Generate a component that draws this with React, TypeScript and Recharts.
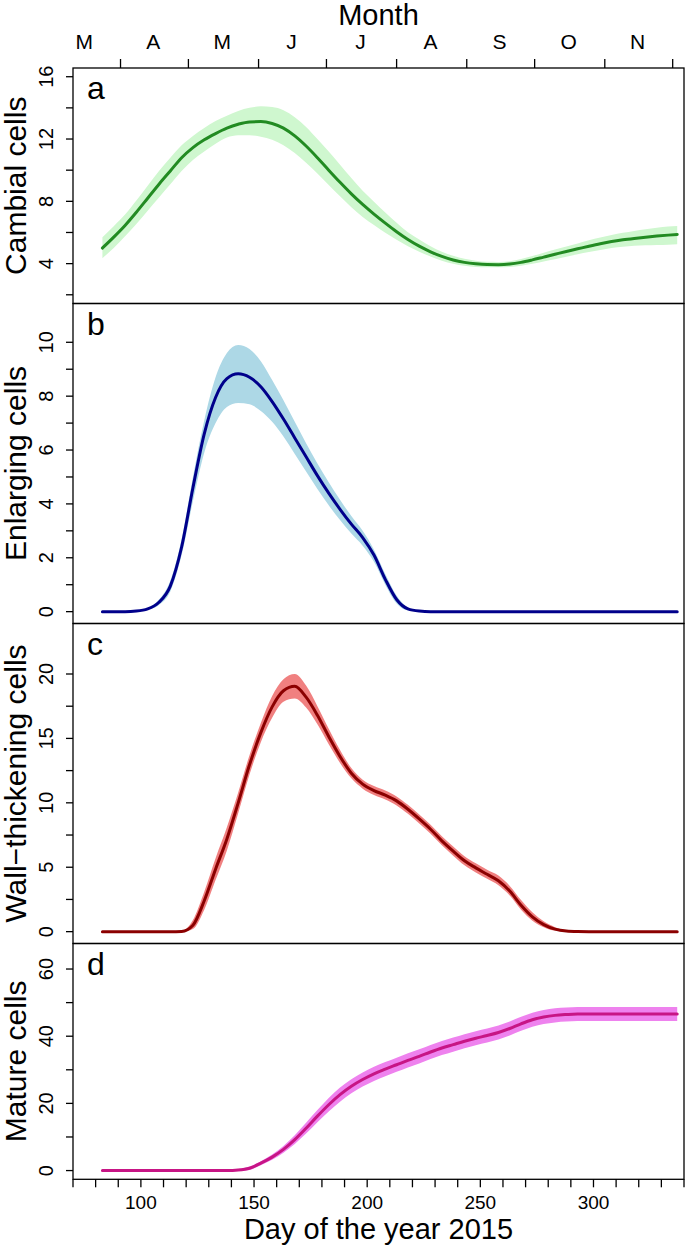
import { Area, ComposedChart, Line, XAxis, YAxis } from 'recharts'

// day of year 2015 at which the fitted curves are sampled
const days = [83, 88, 93, 98, 103, 108, 113, 118, 123, 128, 133, 138, 143, 148, 153, 158, 163, 168, 173, 178, 183, 188, 193, 198, 203, 208, 213, 218, 223, 228, 233, 238, 243, 248, 253, 258, 263, 268, 273, 278, 283, 288, 293, 298, 303, 308, 313, 318, 323, 328, 333, 337]

// a - cambial cells
const cambialFit = [5.0, 5.7, 6.45, 7.3, 8.2, 9.1, 9.95, 10.8, 11.45, 11.95, 12.35, 12.7, 12.95, 13.1, 13.12, 13.0, 12.7, 12.2, 11.55, 10.8, 10.0, 9.22, 8.48, 7.8, 7.18, 6.6, 6.05, 5.55, 5.12, 4.76, 4.46, 4.23, 4.08, 3.99, 3.94, 3.93, 3.97, 4.08, 4.24, 4.42, 4.6, 4.78, 4.95, 5.12, 5.28, 5.42, 5.53, 5.62, 5.7, 5.77, 5.83, 5.87]
const cambialHi = [5.7, 6.4, 7.15, 8.05, 9.0, 9.95, 10.8, 11.6, 12.2, 12.7, 13.15, 13.5, 13.8, 14.0, 14.1, 14.05, 13.85, 13.4, 12.78, 12.0, 11.2, 10.35, 9.5, 8.68, 7.98, 7.28, 6.63, 6.02, 5.55, 5.12, 4.77, 4.5, 4.31, 4.19, 4.12, 4.11, 4.16, 4.3, 4.49, 4.7, 4.9, 5.1, 5.3, 5.5, 5.68, 5.84, 5.98, 6.1, 6.2, 6.3, 6.38, 6.42]
const cambialLo = [4.35, 5.0, 5.75, 6.55, 7.4, 8.25, 9.1, 9.95, 10.65, 11.2, 11.7, 12.1, 12.25, 12.25, 12.15, 11.95, 11.6, 11.1, 10.48, 9.78, 9.05, 8.32, 7.62, 7.0, 6.48, 5.98, 5.53, 5.12, 4.77, 4.46, 4.19, 3.99, 3.86, 3.79, 3.76, 3.76, 3.79, 3.87, 3.99, 4.14, 4.28, 4.44, 4.6, 4.74, 4.88, 5.0, 5.08, 5.14, 5.18, 5.2, 5.22, 5.24]

// b - enlarging cells
const enlargingFit = [0, 0, 0, 0.02, 0.1, 0.35, 0.95, 2.4, 4.6, 6.6, 7.95, 8.65, 8.83, 8.7, 8.35, 7.8, 7.15, 6.45, 5.75, 5.05, 4.4, 3.8, 3.25, 2.75, 2.1, 1.2, 0.45, 0.1, 0.02, 0, 0, 0, 0, 0, 0, 0, 0, 0, 0, 0, 0, 0, 0, 0, 0, 0, 0, 0, 0, 0, 0, 0]
const enlargingHi = [0, 0, 0, 0.03, 0.14, 0.45, 1.15, 2.7, 5.0, 7.1, 8.7, 9.6, 9.9, 9.75, 9.3, 8.6, 7.85, 7.05, 6.25, 5.5, 4.8, 4.15, 3.55, 3.0, 2.3, 1.4, 0.6, 0.15, 0.03, 0, 0, 0, 0, 0, 0, 0, 0, 0, 0, 0, 0, 0, 0, 0, 0, 0, 0, 0, 0, 0, 0, 0]
const enlargingLo = [0, 0, 0, 0.01, 0.07, 0.25, 0.75, 2.1, 4.1, 5.9, 7.0, 7.6, 7.75, 7.7, 7.45, 7.05, 6.5, 5.85, 5.2, 4.55, 3.95, 3.4, 2.9, 2.45, 1.85, 1.0, 0.3, 0.04, 0.01, 0, 0, 0, 0, 0, 0, 0, 0, 0, 0, 0, 0, 0, 0, 0, 0, 0, 0, 0, 0, 0, 0, 0]

// c - wall-thickening cells
const wallFit = [0, 0, 0, 0, 0, 0, 0, 0.02, 0.5, 2.4, 4.85, 7.2, 10.0, 12.95, 15.45, 17.45, 18.7, 19.05, 18.2, 16.8, 15.15, 13.6, 12.3, 11.45, 10.95, 10.6, 10.15, 9.5, 8.75, 7.95, 7.05, 6.25, 5.5, 4.95, 4.45, 3.95, 3.15, 2.05, 1.15, 0.55, 0.2, 0.05, 0.01, 0, 0, 0, 0, 0, 0, 0, 0, 0]
const wallHi = [0, 0, 0, 0, 0, 0, 0, 0.05, 0.9, 3.1, 5.7, 8.1, 10.8, 13.7, 16.2, 18.3, 19.6, 20.0, 19.1, 17.5, 15.75, 14.1, 12.7, 11.8, 11.3, 10.95, 10.5, 9.85, 9.1, 8.3, 7.4, 6.6, 5.85, 5.3, 4.8, 4.35, 3.55, 2.45, 1.5, 0.8, 0.35, 0.1, 0.02, 0, 0, 0, 0, 0, 0, 0, 0, 0]
const wallLo = [0, 0, 0, 0, 0, 0, 0, 0, 0.2, 1.7, 4.0, 6.3, 9.2, 12.2, 14.7, 16.6, 17.85, 18.1, 17.4, 16.1, 14.55, 13.1, 11.9, 11.1, 10.6, 10.25, 9.8, 9.15, 8.4, 7.6, 6.7, 5.9, 5.15, 4.6, 4.1, 3.6, 2.8, 1.7, 0.85, 0.35, 0.08, 0.01, 0, 0, 0, 0, 0, 0, 0, 0, 0, 0]

// d - mature cells
const matureFit = [0, 0, 0, 0, 0, 0, 0, 0, 0, 0, 0, 0, 0.15, 0.7, 2.2, 4.0, 6.3, 9.2, 12.6, 16.2, 19.6, 22.6, 25.1, 27.1, 28.8, 30.2, 31.5, 32.8, 34.0, 35.3, 36.5, 37.5, 38.5, 39.4, 40.2, 41.1, 42.3, 43.7, 44.9, 45.7, 46.2, 46.45, 46.6, 46.6, 46.6, 46.6, 46.6, 46.6, 46.6, 46.6, 46.6, 46.6]
const matureHi = [0.25, 0.25, 0.25, 0.25, 0.25, 0.25, 0.25, 0.25, 0.25, 0.25, 0.25, 0.25, 0.45, 1.2, 2.8, 4.8, 7.3, 10.5, 14.2, 18.0, 21.6, 24.7, 27.2, 29.2, 30.9, 32.3, 33.6, 34.9, 36.1, 37.4, 38.6, 39.6, 40.6, 41.5, 42.3, 43.2, 44.4, 45.8, 47.0, 47.8, 48.3, 48.55, 48.7, 48.7, 48.7, 48.7, 48.7, 48.7, 48.7, 48.7, 48.7, 48.7]
const matureLo = [-0.25, -0.25, -0.25, -0.25, -0.25, -0.25, -0.25, -0.25, -0.25, -0.25, -0.25, -0.25, -0.15, 0.2, 1.6, 3.2, 5.3, 7.9, 11.0, 14.4, 17.6, 20.5, 23.0, 25.0, 26.7, 28.1, 29.4, 30.7, 31.9, 33.2, 34.4, 35.4, 36.4, 37.3, 38.1, 39.0, 40.2, 41.6, 42.8, 43.6, 44.1, 44.35, 44.5, 44.5, 44.5, 44.5, 44.5, 44.5, 44.5, 44.5, 44.5, 44.5]

// axes
const dayTicks = [70, 80, 90, 100, 110, 120, 130, 140, 150, 160, 170, 180, 190, 200, 210, 220, 230, 240, 250, 260, 270, 280, 290, 300, 310, 320, 330, 340]
const dayLabels = [100, 150, 200, 250, 300]
const monthStarts = [91, 121, 152, 182, 213, 244, 274, 305, 335]
const monthMids = [75, 105.5, 136, 166.5, 197, 228, 258.5, 289, 319.5]
const monthLetters = ['M', 'A', 'M', 'J', 'J', 'A', 'S', 'O', 'N']
const topTicks = [...monthMids, ...monthStarts].sort((a, b) => a - b)

const W = 685
const H = 1246
const LEFT = 73
const RIGHT = 684
const AXIS_H = 20
const FONT = '"Liberation Sans", Arial, Helvetica, sans-serif'
const tickStyle = { stroke: '#000', strokeWidth: 1.3 }

const panels = [
  {
    letter: 'a', title: 'Cambial cells', fit: cambialFit, hi: cambialHi, lo: cambialLo,
    line: '#228B22', band: '#CFF7CF', domain: [1.44, 16.56],
    ticks: [2, 4, 6, 8, 10, 12, 14, 16], labels: [4, 8, 12, 16], top: 68, bottom: 303.5,
  },
  {
    letter: 'b', title: 'Enlarging cells', fit: enlargingFit, hi: enlargingHi, lo: enlargingLo,
    line: '#00008B', band: '#ADD8E6', domain: [-0.44, 11.44],
    ticks: [0, 1, 2, 3, 4, 5, 6, 7, 8, 9, 10], labels: [0, 2, 4, 6, 8, 10], top: 303.5, bottom: 623.5,
  },
  {
    letter: 'c', title: 'Wall\u2212thickening cells', fit: wallFit, hi: wallHi, lo: wallLo,
    line: '#8B0000', band: '#F08080', domain: [-0.92, 23.92],
    ticks: [0, 2.5, 5, 7.5, 10, 12.5, 15, 17.5, 20], labels: [0, 5, 10, 15, 20], top: 623.5, bottom: 943.5,
  },
  {
    letter: 'd', title: 'Mature cells', fit: matureFit, hi: matureHi, lo: matureLo,
    line: '#C71585', band: '#EE82EE', domain: [-2.6, 67.6],
    ticks: [0, 10, 20, 30, 40, 50, 60], labels: [0, 20, 40, 60], top: 943.5, bottom: 1179.3,
  },
]

function makeYTick(labels: number[]) {
  return (props: any) => {
    const { y, payload } = props
    if (!labels.includes(payload.value)) return <g />
    return (
      <text x={53} y={y} transform={`rotate(-90 53 ${y})`} textAnchor='middle' fontSize={20} fontFamily={FONT} fill='#000'>
        {payload.value}
      </text>
    )
  }
}

// top axis: month boundaries get a tick mark, mid-months get the letter
const renderTopTick = (props: any) => {
  const { x, payload } = props
  const i = monthMids.indexOf(payload.value)
  if (i >= 0) {
    return (
      <text x={x} y={49} textAnchor='middle' fontSize={21} fontFamily={FONT} fill='#000'>
        {monthLetters[i]}
      </text>
    )
  }
  return <line x1={x} x2={x} y1={68} y2={59} stroke='#000' strokeWidth={1.3} />
}

const renderDayTick = (props: any) => {
  const { x, payload } = props
  if (!dayLabels.includes(payload.value)) return <g />
  return (
    <text x={x} y={1208.5} textAnchor='middle' fontSize={19} fontFamily={FONT} fill='#000'>
      {payload.value}
    </text>
  )
}

function Panel({ p, idx }: { p: (typeof panels)[number]; idx: number }) {
  const rows = days.map((d, i) => ({ day: d, fit: p.fit[i], band: [p.lo[i], p.hi[i]] }))
  const first = idx === 0
  const last = idx === panels.length - 1
  const margin = {
    top: first ? p.top - AXIS_H : p.top,
    right: W - RIGHT,
    bottom: last ? H - p.bottom - AXIS_H : H - p.bottom,
    left: 0,
  }
  return (
    <div style={{ position: 'absolute', left: 0, top: 0 }}>
      <ComposedChart width={W} height={H} data={rows} margin={margin}>
        {first ? (
          <XAxis
            type='number'
            dataKey='day'
            domain={[70, 340]}
            orientation='top'
            height={AXIS_H}
            ticks={topTicks}
            interval={0}
            tick={renderTopTick}
            tickLine={false}
            axisLine={false}
          />
        ) : last ? (
          <XAxis
            type='number'
            dataKey='day'
            domain={[70, 340]}
            orientation='bottom'
            height={AXIS_H}
            ticks={dayTicks}
            interval={0}
            tickSize={8}
            tick={renderDayTick}
            tickLine={tickStyle}
            axisLine={false}
          />
        ) : (
          <XAxis type='number' dataKey='day' domain={[70, 340]} hide />
        )}
        <YAxis
          type='number'
          domain={p.domain}
          ticks={p.ticks}
          interval={0}
          width={LEFT}
          tickSize={7}
          tickLine={tickStyle}
          axisLine={false}
          tick={makeYTick(p.labels)}
        />
        <Area
          type='monotone'
          dataKey='band'
          stroke='none'
          fill={p.band}
          fillOpacity={1}
          isAnimationActive={false}
          activeDot={false}
        />
        <Line
          type='monotone'
          dataKey='fit'
          stroke={p.line}
          strokeWidth={3}
          strokeLinecap='round'
          dot={false}
          activeDot={false}
          isAnimationActive={false}
        />
      </ComposedChart>
    </div>
  )
}

export default function App() {
  return (
    <div style={{ position: 'absolute', left: 0, top: 0, width: W, height: H, background: '#fff' }}>
      {panels.map((p, i) => (
        <Panel key={p.letter} p={p} idx={i} />
      ))}
      <svg width={W} height={H} style={{ position: 'absolute', left: 0, top: 0, pointerEvents: 'none' }}>
        {panels.map((p) => {
          const mid = (p.top + p.bottom) / 2
          return (
            <g key={p.letter}>
              <rect x={LEFT} y={p.top} width={RIGHT - LEFT} height={p.bottom - p.top} fill='none' stroke='#000' strokeWidth={1.3} />
              <text x={87} y={p.top + 31} fontSize={32} fontFamily={FONT} fill='#000'>
                {p.letter}
              </text>
              <text x={26} y={mid} transform={`rotate(-90 26 ${mid})`} textAnchor='middle' fontSize={30} fontFamily={FONT} fill='#000'>
                {p.title}
              </text>
            </g>
          )
        })}
        <text x={(LEFT + RIGHT) / 2} y={25} textAnchor='middle' fontSize={29} fontFamily={FONT} fill='#000'>
          Month
        </text>
        <text x={(LEFT + RIGHT) / 2} y={1239} textAnchor='middle' fontSize={29} fontFamily={FONT} fill='#000'>
          Day of the year 2015
        </text>
      </svg>
    </div>
  )
}
